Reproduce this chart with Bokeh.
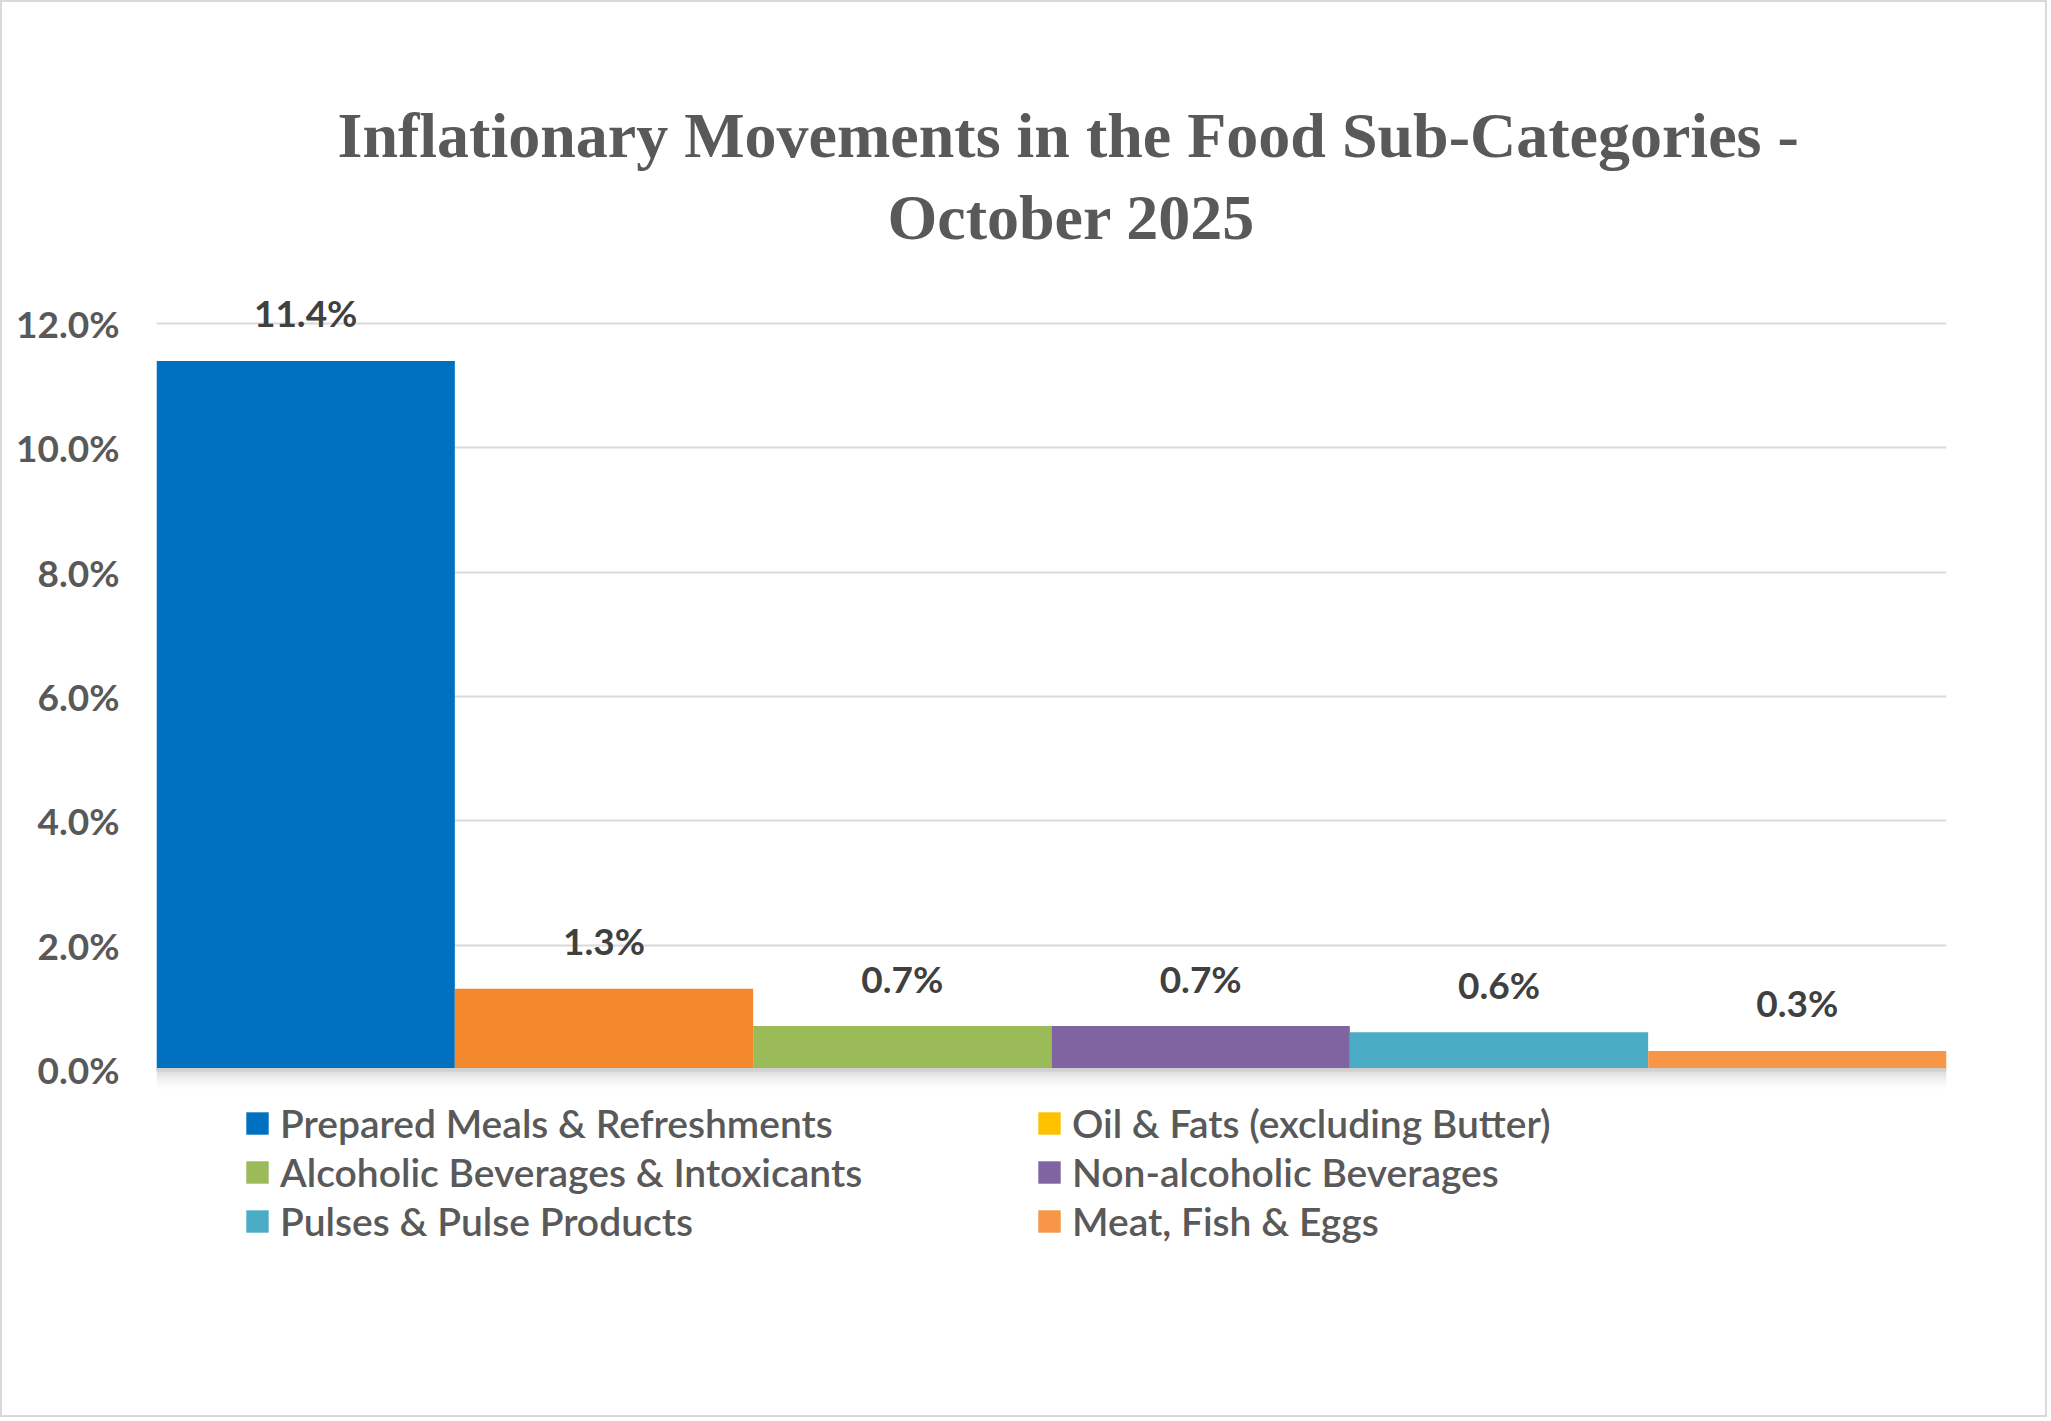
from bokeh.plotting import figure
from bokeh.models import (ColumnDataSource, FixedTicker, PrintfTickFormatter, Legend,
                          LegendItem, Range1d, FactorRange, Title, Span, BoxAnnotation)
from bokeh.embed import file_html
from bokeh.resources import INLINE
from bokeh.core.properties import value

# ---------------- data ----------------
categories = [
    "Prepared Meals & Refreshments",
    "Oil & Fats (excluding Butter)",
    "Alcoholic Beverages & Intoxicants",
    "Non-alcoholic Beverages",
    "Pulses & Pulse Products",
    "Meat, Fish & Eggs",
]
inflation = [11.4, 1.3, 0.7, 0.7, 0.6, 0.3]
bar_colors = ["#0070C0", "#F3882D", "#9BBB59", "#8064A2", "#4BACC6", "#F79646"]
legend_colors = ["#0070C0", "#FFC000", "#9BBB59", "#8064A2", "#4BACC6", "#F79646"]
y_ticks = [0, 2, 4, 6, 8, 10, 12]
title_lines = ["Inflationary Movements in the Food Sub-Categories -", "October 2025"]
legend_columns = [[0, 2, 4], [1, 3, 5]]

labels = [f"{v:.1f}%" for v in inflation]
src = ColumnDataSource(dict(cat=categories, val=inflation, color=bar_colors, label=labels))
# zero-height helper bars: they only supply the legend swatch colours
leg_src = ColumnDataSource(dict(cat=categories, zero=[0] * len(categories), color=legend_colors))

# frame spans from the top of the value area down to the legend area
PX_PER_UNIT = 62.16
Y_TOP = 13.0
FRAME_TOP = 259
FRAME_BOTTOM = 1300
y_start = Y_TOP - (FRAME_BOTTOM - FRAME_TOP) / PX_PER_UNIT

p = figure(
    width=2047, height=1417,
    x_range=FactorRange(*categories, range_padding=0),
    y_range=Range1d(y_start, Y_TOP),
    x_axis_location=None,
    output_backend="svg", toolbar_location=None,
    min_border_left=154, min_border_right=103,
    min_border_top=FRAME_TOP, min_border_bottom=1417 - FRAME_BOTTOM,
)
p.background_fill_color = "white"
p.border_fill_color = "white"
p.outline_line_color = None
p.styles = {"border": "2px solid #d9d9d9"}

# title (two centred lines, positioned as in the reference)
def style_title(t):
    t.text_font = "Liberation Serif"
    t.text_font_style = "bold"
    t.text_font_size = "64px"
    t.text_color = "#595959"
    t.align = "left"

p.title.text = title_lines[0]
style_title(p.title)
p.title.offset = 181
p.title.standoff = 0
t2 = Title(text=title_lines[1])
style_title(t2)
t2.offset = 731
t2.standoff = 18
p.add_layout(t2, "above")

# soft shadow under the baseline
shadow_alphas = [0.16, 0.12, 0.09, 0.065, 0.045, 0.03, 0.018, 0.008]
step = 2.5 / PX_PER_UNIT
for i, a in enumerate(shadow_alphas):
    p.add_layout(BoxAnnotation(top=-i * step, bottom=-(i + 1) * step,
                               fill_color="#000000", fill_alpha=a, line_color=None,
                               level="underlay"))

# bars
r = p.vbar(x="cat", top="val", bottom=0, width=1.0, fill_color="color",
           line_color=None, source=src)

# baseline
p.add_layout(Span(location=0, dimension="width", line_color="#d0d0d0", line_width=3))

# data labels
p.text(x="cat", y="val", text="label", source=src,
       text_font=value("Lato"), text_font_style="bold", text_font_size="37px",
       text_color="#404040", text_align="center", text_baseline="alphabetic", y_offset=-48)

# y axis
p.yaxis.ticker = FixedTicker(ticks=y_ticks)
p.yaxis.formatter = PrintfTickFormatter(format="%.1f%%")
p.yaxis.axis_line_color = None
p.yaxis.major_tick_line_color = None
p.yaxis.minor_tick_line_color = None
p.yaxis.major_tick_out = 0
p.yaxis.major_label_standoff = 37
p.yaxis.major_label_text_font = "Lato"
p.yaxis.major_label_text_font_style = "bold"
p.yaxis.major_label_text_font_size = "37px"
p.yaxis.major_label_text_color = "#595959"

p.xgrid.grid_line_color = None
p.ygrid.ticker = FixedTicker(ticks=y_ticks)
p.ygrid.grid_line_color = "#d9d9d9"
p.ygrid.grid_line_width = 2

# legend
leg_r = p.vbar(x="cat", top="zero", bottom="zero", width=1.0, fill_color="color",
               line_color=None, source=leg_src)
for col, vx in zip(legend_columns, [87, 879]):
    items = [LegendItem(label=categories[i], renderers=[leg_r], index=i) for i in col]
    lg = Legend(items=items, location=(vx, 58), orientation="vertical",
                padding=0, margin=0, spacing=3, border_line_color=None,
                background_fill_alpha=0, glyph_width=28, glyph_height=28,
                label_standoff=9, label_height=46,
                label_text_font="'Lato Semibold', 'Lato Medium', Lato",
                label_text_font_size="39px",
                label_text_color="#595959")
    p.add_layout(lg, "center")

open("out.html", "w").write(file_html(p, INLINE))
